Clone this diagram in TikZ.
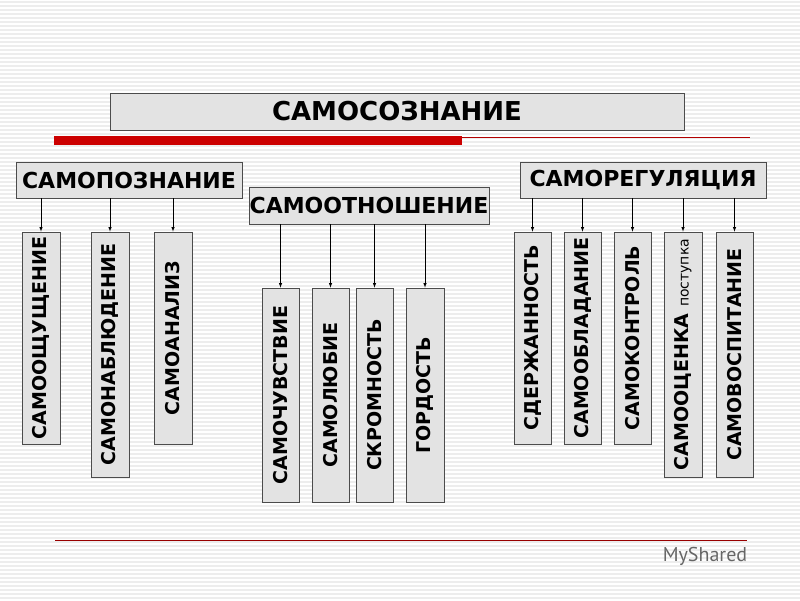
\documentclass[tikz,border=0pt]{standalone}
\usepackage{fontspec}
\setmainfont{DejaVu Sans}
\newfontfamily\logofont{PT Sans}
\begin{document}
\begin{tikzpicture}[x=1pt,y=-1pt,
  hbox/.style={draw=black!70,fill=gray!22,line width=0.8pt,font=\bfseries\fontsize{22}{22}\selectfont,inner sep=0pt},
  vbox/.style={draw=black!70,fill=gray!22,line width=0.8pt,font=\bfseries\fontsize{19}{19}\selectfont,inner sep=0pt,rotate=90},
  arr/.style={-latex,line width=0.6pt}]
\fill[white] (0,0) rectangle (800,600);
\useasboundingbox (0,0) rectangle (800,600);
\foreach \y in {2,6,...,598} \draw[gray!14,line width=1.2pt] (0,\y) -- (800,\y);
% top
\node[hbox,minimum width=574,minimum height=37,font=\bfseries\fontsize{26}{26}\selectfont] (top) at (397,111.5) {САМОСОЗНАНИЕ};
\fill[red!80!black] (54,136) rectangle (462,145);
\draw[red!70!black,line width=0.5pt] (462,137) -- (750,137);
\draw[red!60!black,line width=0.5pt] (55,540) -- (747,540);
% headings
\node[hbox,minimum width=226,minimum height=36] (p) at (129,180) {САМОПОЗНАНИЕ};
\node[hbox,minimum width=240,minimum height=37] (o) at (369,205.5) {САМООТНОШЕНИЕ};
\node[hbox,minimum width=246,minimum height=36] (r) at (643,180) {САМОРЕГУЛЯЦИЯ};
% children
\newcommand\vb[6]{\node[vbox,minimum width=#4-#3,minimum height=#2-#1] (#5) at ({(#1+#2)/2},{(#3+#4)/2}) {#6};}
\vb{22}{60}{232}{444}{p1}{САМООЩУЩЕНИЕ}
\vb{91}{129}{232}{477}{p2}{САМОНАБЛЮДЕНИЕ}
\vb{154}{192}{232}{444}{p3}{САМОАНАЛИЗ}
\vb{262}{299}{288}{502}{o1}{САМОЧУВСТВИЕ}
\vb{312}{349}{288}{502}{o2}{САМОЛЮБИЕ}
\vb{356}{393}{288}{502}{o3}{СКРОМНОСТЬ}
\vb{406}{444}{288}{502}{o4}{ГОРДОСТЬ}
\vb{514}{551}{232}{444}{r1}{СДЕРЖАННОСТЬ}
\vb{564}{601}{232}{444}{r2}{САМООБЛАДАНИЕ}
\vb{614}{651}{232}{444}{r3}{САМОКОНТРОЛЬ}
\vb{664}{702}{232}{477}{r4}{САМООЦЕНКА {\mdseries\fontsize{14}{14}\selectfont поступка}}
\vb{716}{753}{232}{477}{r5}{САМОВОСПИТАНИЕ}
\foreach \c in {p1,p2,p3} \draw[arr] (p.south -| \c.center) -- (\c.east);
\foreach \c in {o1,o2,o3,o4} \draw[arr] (o.south -| \c.center) -- (\c.east);
\foreach \c in {r1,r2,r3,r4,r5} \draw[arr] (r.south -| \c.center) -- (\c.east);
\node[font=\logofont\fontsize{20}{20}\selectfont,text=gray!80!black] (logo) at (705,556) {MyShared};
\end{tikzpicture}
\end{document}
